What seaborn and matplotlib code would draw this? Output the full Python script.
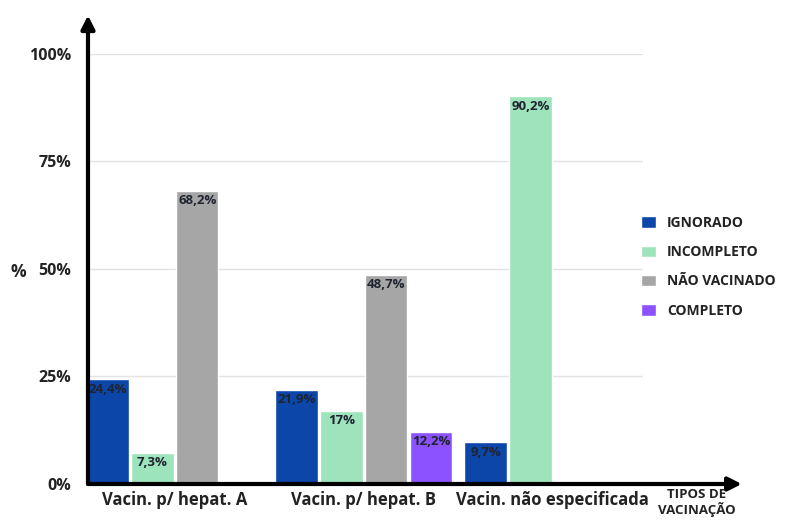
import pandas as pd
import matplotlib
matplotlib.use("Agg")
import matplotlib.pyplot as plt
import seaborn as sns

# data
categories = ["Vacin. p/ hepat. A", "Vacin. p/ hepat. B", "Vacin. não especificada"]
statuses = ["IGNORADO", "INCOMPLETO", "NÃO VACINADO", "COMPLETO"]
ignorado = [24.4, 21.9, 9.7]
incompleto = [7.3, 17.0, 90.2]
nao_vacinado = [68.2, 48.7, None]
completo = [None, 12.2, None]
colors = ["#0b46a8", "#9de3bb", "#a6a6a6", "#8c52ff"]

rows = []
for status, vals in zip(statuses, [ignorado, incompleto, nao_vacinado, completo]):
    for cat, v in zip(categories, vals):
        if v is not None:
            rows.append({"tipo": cat, "status": status, "pct": v})
df = pd.DataFrame(rows)

sns.set_theme(style="white")
plt.rcParams["font.family"] = ["Open Sans", "DejaVu Sans"]

fig = plt.figure(figsize=(7.87, 5.22), dpi=100)
ax = fig.add_axes([0.1118, 0.0728, 0.705, 0.8238])

sns.barplot(data=df, x="tipo", y="pct", hue="status", order=categories,
            hue_order=statuses, palette=colors, width=0.95, gap=0.06,
            saturation=1, errorbar=None, ax=ax)

# value labels just inside the top of each bar
for p in ax.patches:
    h = p.get_height()
    if h is None or h != h or h <= 0:
        continue
    txt = f"{h:g}".replace(".", ",") + "%"
    ax.text(p.get_x() + p.get_width() / 2, h - 0.8, txt, ha="center", va="top",
            fontsize=9.5, fontweight="bold", color="#1f2430")

ax.set_ylim(0, 100)
ax.set_xlim(-0.46, 2.476)
ax.set_yticks([0, 25, 50, 75, 100])
ax.set_yticklabels(["0%", "25%", "50%", "75%", "100%"], fontsize=11.5, fontweight="bold")
ax.tick_params(axis="y", length=0, pad=12, colors="#222222")
ax.tick_params(axis="x", length=0, pad=5, colors="#222222")
for lab in ax.get_xticklabels():
    lab.set_fontsize(12)
    lab.set_fontweight("bold")
ax.set_xlabel("")
ax.set_ylabel("")
ax.yaxis.grid(True, color="#e3e3e3", lw=1)
ax.set_axisbelow(True)
for s in ax.spines.values():
    s.set_visible(False)

# arrowed axes
arrow = dict(arrowstyle="-|>", lw=3, color="black", mutation_scale=20,
             shrinkA=0, shrinkB=0)
ax.annotate("", xy=(-0.46, 109), xytext=(-0.46, 0), xycoords="data",
            arrowprops=arrow, annotation_clip=False)
ax.annotate("", xy=(3.0, 0), xytext=(-0.46, 0), xycoords="data",
            arrowprops=arrow, annotation_clip=False)

leg = ax.legend(loc="center left", bbox_to_anchor=(0.997, 0.505), frameon=False,
                borderaxespad=0, borderpad=0, handlelength=1.1, handleheight=0.9,
                labelspacing=1.1, handletextpad=0.75, fontsize=10)
for t in leg.get_texts():
    t.set_fontweight("bold")
    t.set_color("#222222")

fig.text(18 / 787, 1 - 272 / 522, "%", fontsize=12.5, fontweight="bold",
         ha="center", va="center", color="#222222")
fig.text(697 / 787, 1 - 488 / 522, "TIPOS DE\nVACINAÇÃO", fontsize=9.5,
         fontweight="bold", ha="center", va="top", color="#222222",
         linespacing=1.05)

fig.savefig("out.png", dpi=100)
